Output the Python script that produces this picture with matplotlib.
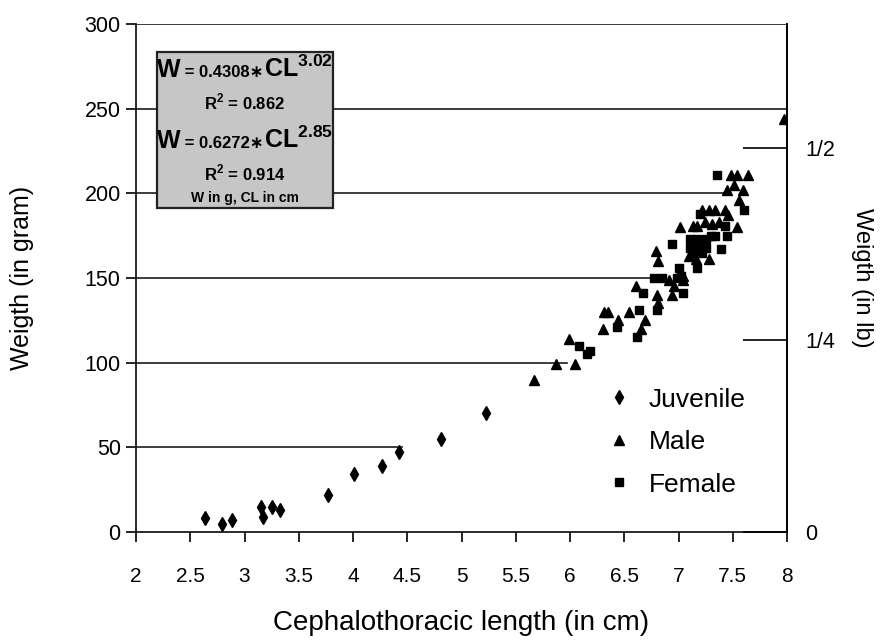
import matplotlib
matplotlib.use("Agg")
import matplotlib.pyplot as plt
from matplotlib.patches import Rectangle
from matplotlib.offsetbox import TextArea, HPacker, AnnotationBbox

plt.rcParams['font.family'] = ['Liberation Sans', 'DejaVu Sans']
plt.rcParams['mathtext.fontset'] = 'custom'
plt.rcParams['mathtext.rm'] = 'Liberation Sans'
plt.rcParams['mathtext.bf'] = 'Liberation Sans:bold'

# data (CL in cm, W in g)
juv_cl = [2.64, 2.79, 2.88, 3.15, 3.17, 3.25, 3.33, 3.77, 4.01, 4.27, 4.42, 4.81, 5.23]
juv_w = [8, 5, 7, 15, 9, 15, 13, 22, 34, 39, 47, 55, 70]

male_cl = [5.67, 5.87, 6.05, 5.99, 6.30, 6.31, 6.35, 6.44, 6.54, 6.61, 6.69, 6.65,
           6.80, 6.81, 6.79, 6.81, 6.91, 6.96, 6.94, 7.04, 7.01, 7.13, 7.17, 7.24,
           7.31, 7.37, 7.54, 7.22, 7.28, 7.34, 7.43, 7.46, 7.10, 7.28, 7.16, 7.45,
           7.51, 7.59, 7.56, 7.48, 7.54, 7.64, 7.97, 7.04]
male_w = [90, 99, 99, 114, 120, 130, 130, 125, 130, 145, 125, 120,
          140, 135, 166, 160, 149, 145, 140, 149, 180, 181, 181, 183,
          182, 183, 180, 190, 190, 190, 190, 187, 163, 161, 161, 202,
          205, 202, 196, 211, 211, 211, 244, 151]

fem_cl = [6.08, 6.16, 6.18, 6.43, 6.64, 6.67, 6.62, 6.80, 6.77, 6.85, 6.94, 6.99,
          7.00, 7.04, 7.02, 7.11, 7.17, 7.25, 7.30, 7.34, 7.45, 7.43, 7.20, 7.11,
          7.19, 7.25, 7.39, 7.13, 7.22, 7.17, 7.35, 7.60]
fem_w = [110, 105, 107, 121, 131, 141, 115, 131, 150, 150, 170, 150,
         156, 141, 151, 173, 173, 173, 175, 175, 175, 181, 188, 168,
         168, 168, 167, 165, 165, 156, 211, 190]

x_ticks = [2, 2.5, 3, 3.5, 4, 4.5, 5, 5.5, 6, 6.5, 7, 7.5, 8]
x_labels = ['2', '2.5', '3', '3.5', '4', '4.5', '5', '5.5', '6', '6.5', '7', '7.5', '8']
y_ticks = [0, 50, 100, 150, 200, 250, 300]
lb_ticks = [0, 0.25, 0.5]
lb_labels = ['0', '1/4', '1/2']
G_PER_LB = 453.592

fig = plt.figure(figsize=(8.85, 6.4), dpi=100)
ax = fig.add_axes([0.1537, 0.16875, 0.7356, 0.79375])

# partial horizontal gridlines as in the original
grid_ends = {50: 0.409, 100: 0.662, 150: 0.793, 200: 0.905, 250: 1.0, 300: 1.0}
for yv, xe in grid_ends.items():
    ax.axhline(yv, xmin=0, xmax=xe, color='#1a1a1a', lw=1.2, zorder=1)

ax.plot(juv_cl, juv_w, 'd', color='black', ms=7, label='Juvenile', zorder=3)
ax.plot(male_cl, male_w, '^', color='black', ms=7, label='Male', zorder=3)
ax.plot(fem_cl, fem_w, 's', color='black', ms=6, label='Female', zorder=3)

ax.set_xlim(2, 8)
ax.set_ylim(0, 300)
ax.set_xticks(x_ticks)
ax.set_xticklabels(x_labels)
ax.set_yticks(y_ticks)
ax.spines['top'].set_visible(False)
for s in ['left', 'bottom', 'right']:
    ax.spines[s].set_linewidth(1.3)
    ax.spines[s].set_color('#1a1a1a')
ax.tick_params(axis='x', direction='out', length=7, width=1.2, pad=18, labelsize=15)
ax.tick_params(axis='y', direction='out', length=7, width=1.2, pad=4, labelsize=15.5)
ax.set_xlabel('Cephalothoracic length (in cm)', fontsize=20)
ax.set_ylabel('Weigth (in gram)', fontsize=18)
ax.xaxis.set_label_coords(0.5, -0.179)
ax.xaxis.label.set_va('center')
ax.yaxis.set_label_coords(-0.175, 0.5)
ax.yaxis.label.set_va('center')

# right axis in pounds
ax2 = ax.twinx()
ax2.set_ylim(0, 300 / G_PER_LB)
ax2.set_yticks(lb_ticks)
ax2.set_yticklabels(lb_labels)
ax2.set_yticks(lb_ticks, minor=True)
ax2.tick_params(axis='y', which='major', direction='in', length=32, width=1.2, pad=13, labelsize=15.5)
ax2.tick_params(axis='y', which='minor', direction='out', length=4, width=1.2)
for s in ['top', 'left', 'bottom']:
    ax2.spines[s].set_visible(False)
ax2.spines['right'].set_linewidth(1.3)
ax2.set_ylabel('Weigth (in lb)', fontsize=17, rotation=270)
ax2.yaxis.set_label_coords(1.115, 0.5)
ax2.yaxis.label.set_va('center')

# equation box
ax.add_patch(Rectangle((0.032, 0.638), 0.271, 0.307, transform=ax.transAxes,
                       facecolor='#c6c6c6', edgecolor='#222222', lw=1.6, zorder=4))


def eq_line(coef, expo, yf):
    parts = [TextArea('W', textprops=dict(fontsize=18, fontweight='bold')),
             TextArea(' = ' + coef + '\u2217', textprops=dict(fontsize=12, fontweight='bold')),
             TextArea('CL$^{\\mathbf{' + expo + '}}$', textprops=dict(fontsize=18, fontweight='bold'))]
    box = HPacker(children=parts, align='baseline', pad=0, sep=0)
    ab = AnnotationBbox(box, (0.167, yf), xycoords='axes fraction', frameon=False,
                        box_alignment=(0.5, 0.5), zorder=5)
    ax.add_artist(ab)


eq_line('0.4308', '3.02', 0.912)
ax.text(0.167, 0.846, 'R$^{\\mathbf{2}}$ = 0.862', transform=ax.transAxes, ha='center',
        va='center', fontsize=12, fontweight='bold', zorder=5)
eq_line('0.6272', '2.85', 0.772)
ax.text(0.167, 0.707, 'R$^{\\mathbf{2}}$ = 0.914', transform=ax.transAxes, ha='center',
        va='center', fontsize=12, fontweight='bold', zorder=5)
ax.text(0.167, 0.658, 'W in g, CL in cm', transform=ax.transAxes, ha='center',
        va='center', fontsize=10, fontweight='bold', zorder=5)

ax.legend(loc='upper left', bbox_to_anchor=(0.70, 0.31), frameon=False, fontsize=19,
          handletextpad=0.55, labelspacing=0.7, handlelength=1.1, borderpad=0)

fig.savefig('out.png', dpi=100)
